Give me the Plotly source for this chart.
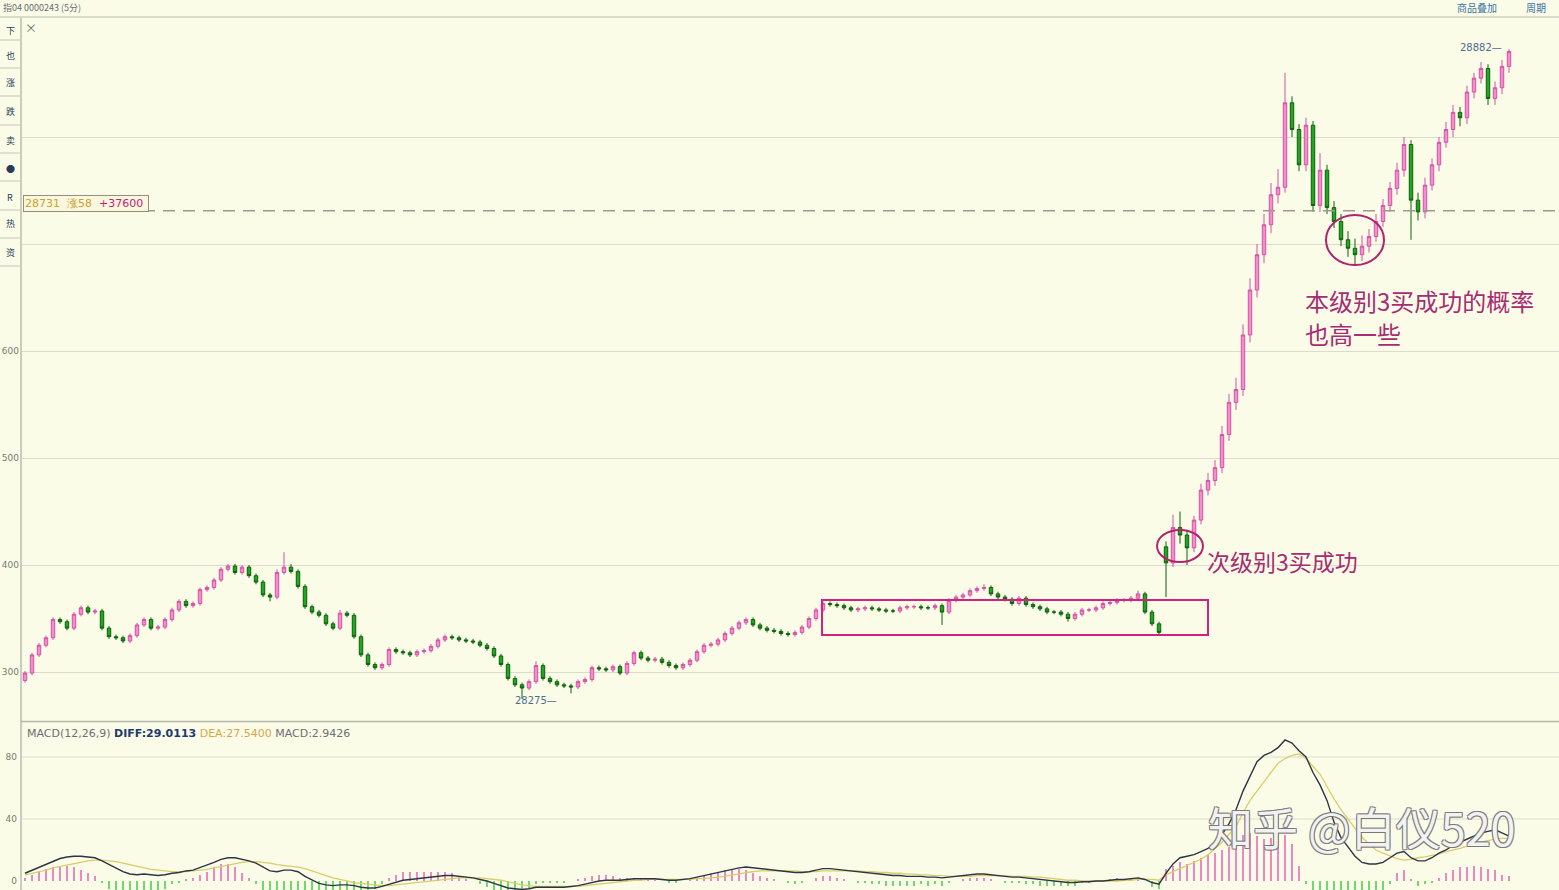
import plotly.graph_objects as go

# ---------------- data ----------------
close = [
28299,28316,28325,28332,28349,28347,28341,28354,28360,28356,
28357,28341,28333,28332,28329,28334,28344,28349,28341,28342,
28349,28358,28366,28362,28364,28377,28379,28386,28396,28399,
28393,28398,28390,28384,28372,28370,28393,28398,28394,28380,
28361,28356,28353,28345,28341,28355,28353,28333,28316,28307,
28304,28307,28321,28319,28318,28316,28319,28320,28324,28330,
28333,28332,28330,28329,28328,28325,28322,28315,28307,28294,
28288,28285,28291,28306,28294,28291,28288,28287,28286,28291,
28293,28304,28303,28302,28305,28299,28308,28318,28313,28311,
28312,28309,28306,28304,28307,28311,28319,28325,28326,28330,
28336,28341,28346,28349,28344,28341,28339,28338,28336,28335,
28337,28342,28350,28358,28364,28363,28362,28360,28358,28359,
28360,28359,28358,28357,28357,28360,28361,28361,28360,28360,
28362,28356,28367,28370,28372,28376,28378,28379,28373,28370,
28368,28364,28369,28363,28361,28359,28356,28356,28354,28350,
28354,28358,28358,28360,28364,28365,28367,28367,28369,28373,
28356,28345,28337,28402,28435,28428,28416,28442,28470,28479,
28491,28522,28552,28564,28615,28657,28690,28718,28746,28753,
28832,28807,28774,28811,28736,28769,28734,28721,28704,28696,
28690,28698,28707,28721,28736,28752,28769,28793,28741,28730,
28755,28774,28795,28807,28823,28818,28842,28855,28864,28836,
28846,28866,28880]

open_ = [
28292,28299,28316,28325,28332,28349,28347,28341,28354,28360,
28356,28357,28341,28333,28332,28329,28334,28344,28349,28341,
28342,28349,28358,28366,28362,28364,28377,28379,28386,28396,
28399,28393,28398,28390,28384,28372,28370,28393,28398,28394,
28380,28361,28356,28353,28345,28341,28355,28353,28333,28316,
28307,28304,28307,28321,28319,28318,28316,28319,28320,28324,
28330,28333,28332,28330,28329,28328,28325,28322,28315,28307,
28294,28288,28285,28291,28306,28294,28291,28288,28287,28286,
28291,28293,28304,28303,28302,28305,28299,28308,28318,28313,
28311,28312,28309,28306,28304,28307,28311,28319,28325,28326,
28330,28336,28341,28346,28349,28344,28341,28339,28338,28336,
28335,28337,28342,28350,28358,28364,28363,28362,28360,28358,
28359,28360,28359,28358,28357,28357,28360,28361,28361,28360,
28360,28362,28356,28367,28370,28372,28376,28378,28379,28373,
28370,28368,28364,28369,28363,28361,28359,28356,28356,28354,
28350,28354,28358,28358,28360,28364,28365,28367,28367,28369,
28373,28356,28345,28417,28402,28435,28428,28416,28442,28470,
28479,28491,28522,28552,28564,28615,28657,28690,28718,28746,
28753,28832,28807,28774,28811,28736,28769,28734,28721,28704,
28696,28690,28698,28707,28721,28736,28752,28769,28793,28741,
28730,28755,28774,28795,28807,28823,28818,28842,28855,28864,
28836,28846,28866]

high = [
28301,28318,28327,28334,28351,28351,28349,28356,28362,28362,
28359,28359,28343,28335,28334,28336,28346,28351,28351,28344,
28351,28360,28368,28368,28366,28379,28381,28388,28398,28401,
28401,28400,28400,28392,28386,28374,28396,28412,28401,28396,
28382,28363,28358,28355,28347,28358,28357,28355,28335,28318,
28309,28309,28323,28323,28321,28320,28321,28322,28326,28332,
28335,28335,28334,28332,28331,28330,28327,28324,28317,28309,
28296,28290,28293,28310,28308,28296,28293,28290,28289,28293,
28295,28306,28306,28305,28307,28307,28310,28320,28320,28315,
28314,28314,28311,28308,28309,28313,28321,28327,28328,28332,
28338,28343,28348,28351,28351,28346,28343,28341,28340,28338,
28339,28344,28352,28360,28366,28366,28365,28364,28362,28361,
28362,28362,28361,28360,28359,28362,28363,28363,28363,28362,
28364,28364,28369,28372,28374,28378,28380,28382,28381,28375,
28372,28370,28371,28371,28365,28363,28361,28358,28358,28356,
28356,28360,28360,28362,28366,28367,28369,28369,28371,28376,
28375,28358,28347,28422,28447,28450,28433,28446,28476,28486,
28498,28530,28560,28575,28625,28668,28700,28728,28757,28770,
28860,28838,28812,28818,28815,28785,28774,28740,28728,28712,
28705,28708,28714,28728,28742,28758,28776,28800,28797,28748,
28762,28780,28800,28814,28830,28828,28848,28860,28870,28868,
28852,28872,28882]

low = [
28290,28297,28314,28323,28330,28345,28339,28339,28352,28354,
28354,28339,28331,28330,28327,28327,28332,28342,28339,28339,
28340,28347,28356,28360,28360,28362,28375,28377,28384,28394,
28391,28391,28388,28382,28370,28366,28368,28391,28392,28378,
28359,28354,28351,28343,28339,28339,28351,28331,28314,28305,
28302,28302,28305,28317,28316,28314,28314,28317,28318,28322,
28328,28330,28328,28327,28326,28323,28320,28313,28305,28292,
28286,28275,28283,28289,28292,28289,28286,28285,28280,28284,
28289,28291,28301,28300,28300,28297,28297,28306,28311,28309,
28309,28307,28304,28302,28302,28305,28309,28317,28323,28324,
28328,28334,28339,28344,28342,28339,28337,28336,28334,28333,
28333,28335,28340,28348,28356,28361,28360,28358,28356,28356,
28357,28357,28356,28355,28355,28355,28358,28359,28358,28358,
28358,28344,28354,28365,28368,28370,28374,28376,28371,28368,
28366,28362,28362,28361,28359,28357,28354,28354,28352,28347,
28348,28352,28356,28356,28358,28362,28363,28365,28365,28367,
28354,28343,28335,28370,28398,28420,28400,28412,28438,28465,
28474,28486,28516,28545,28558,28608,28650,28682,28710,28738,
28748,28800,28768,28768,28730,28730,28728,28715,28698,28688,
28680,28684,28692,28702,28716,28730,28746,28763,28704,28722,
28724,28750,28768,28790,28800,28810,28812,28836,28850,28830,
28830,28840,28860]

diff = [
5,7,9,11,13,14.5,15.5,16,16,15.5,15,
13,10.5,8,6,4.5,4,4.5,4,3.5,4,
5,5.5,6.5,7,8.5,10,12,14,15,15,
14,13,11.5,9,6.5,6,7,7,6,3,
0.5,-1.5,-2.5,-3,-2.5,-2.5,-3,-4,-4.5,-4.5,
-3.5,-2,-1,0.5,1,1.5,2,2.5,3,3.5,
3.5,3,2.5,2,1,0,-1.5,-3,-4.5,-5,
-5.5,-5,-4,-4,-4,-4,-4,-3.5,-3,-2,
-1,0,0.5,0.5,0.5,1,1.5,1.5,1.5,1.5,
1,0.5,0.5,1,1.5,2.5,3.5,4.5,5.5,6.5,
7.5,8.5,9,8.5,8,7.5,7,6.5,6,5.5,
5.5,6,7,8,8,7.5,7,6.5,6,5.5,
5,4.5,4,3.5,3.5,3,3,3,2.5,2.5,
2,2.5,3,3.5,4,4.5,4.5,4,3.5,3,
2.5,2.5,2,1.5,1,0.5,0,-0.5,-1,-1,
-0.5,-0.5,0,0,0.5,1,1,1.5,2,1,
-1,-2,5,11,15,16,17,19,21,24,
30,37,46,58,68,77,81,83,86,91,
89,84,80,70,62,52,38,28,22,16,
12,11,11,12,15,18,19,15,13,13,
15,18,20,23,25,27,29,31,32,33,
31,29.01]

dea = [
4,5,6,7,8.5,9.5,10.5,11.5,12.5,13,13.5,
13.5,13,12.5,11.5,10.5,9.5,8.5,7.5,7,6.5,
6,6,6,6.5,7,7.5,8.5,9.5,10.5,11.5,
12,12.5,12.5,12,11.5,10.5,10,9.5,9,8,
6.5,5,3.5,2,1,0,-1,-1.5,-2,-2.5,
-3,-3,-2.5,-2,-1.5,-1,-0.5,0,0.5,1,
1.5,2,2,2,2,1.5,1,0.5,-0.5,-1.5,
-2.5,-3,-3.5,-3.5,-3.5,-3.5,-3.5,-3.5,-3.5,-3,
-2.5,-2,-1.5,-1,-0.5,0,0.5,0.5,1,1,
1,1,1,1,1,1.5,1.5,2,2.5,3,
4,4.5,5.5,6,6.5,6.5,6.5,6.5,6.5,6.5,
6,6,6,6.5,6.5,6.5,6.5,6.5,6.5,6,
6,5.5,5.5,5,5,4.5,4.5,4,4,3.5,
3.5,3,3,3,3,3.5,3.5,3.5,3.5,3.5,
3,3,3,2.5,2.5,2,1.5,1,0.5,0.5,
0,0,0,0,0,0,0.5,0.5,1,1,
1,0.5,4,6,8,10,12,14,17,21,
25,30,35,44,52,58,64,70,76,79,
81,82,79,74,69,61,53,46,40,34,
28,24,20,18,16,14.5,13.5,14,15,15.5,
16.5,17.5,19,20,21,22.5,24,25,26,27,
27.5,27.54]

macd_hist = [
2,4,6,8,9,10,10,9,7,5,3,
-1,-5,-9,-11,-12,-11,-8,-7,-7,-5,
-2,-1,1,2,4,6,9,11,11,9,
5,2,-2,-7,-11,-11,-7,-6,-7,-12,
-15,-16,-15,-13,-9,-7,-6,-6,-6,-5,
-2,2,4,6,6,6,6,6,6,6,
5,3,1,0,-2,-4,-6,-8,-10,-9,
-8,-5,-2,-1,-1,-1,-1,0,1,2,
3,4,4,3,2,2,2,2,1,1,
0,-1,-1,0,1,2,4,5,6,7,
7,8,7,5,3,2,1,0,-1,-2,
-1,0,2,3,3,2,1,0,-1,-1,
-2,-2,-3,-3,-3,-3,-3,-2,-3,-2,
-3,-1,0,1,2,2,2,1,0,-1,
-1,-1,-2,-2,-3,-3,-3,-3,-3,-3,
-1,-1,0,0,1,2,1,2,2,0,
-4,-5,8,10,12,11,13,15,17,18,
20,22,24,30,31,29,27,28,31,30,
24,10,-2,-8,-14,-18,-22,-24,-24,-22,
-18,-14,-10,-6,-2,5,7,1,-3,-2,
-1,2,5,7,9,9,10,9,8,7,
4,2.94]

price_ticks = [28300, 28400, 28500, 28600, 28700, 28800]
price_tick_text = ["300", "400", "500", "600", "", ""]
macd_ticks = [0, 40, 80]
macd_tick_text = ["0", "40", "80"]
ref_price = 28731

# ---------------- geometry helpers ----------------
W, H = 1559, 890
ML, MT = 22, 18
PW, PH = W - ML, H - MT


def px(x):
    return (x - ML) / PW


def py(y):
    return (H - y) / PH


idx = list(range(len(close)))
BG = "#fbfce7"
GRID = "#dcdcce"
CJK = "Noto Sans CJK SC"

fig = go.Figure()
fig.add_trace(go.Candlestick(
    x=idx, open=open_, high=high, low=low, close=close,
    increasing=dict(line=dict(color="#d651a6", width=1), fillcolor="#ef8fcf"),
    decreasing=dict(line=dict(color="#0c620c", width=1), fillcolor="#22a622"),
    whiskerwidth=0, xaxis="x", yaxis="y", showlegend=False, name="K"))

fig.add_trace(go.Bar(
    x=idx, y=macd_hist, width=0.4,
    marker=dict(color=["#e98ac6" if v >= 0 else "#6fd86f" for v in macd_hist], line=dict(width=0)),
    xaxis="x2", yaxis="y2", showlegend=False, name="MACD"))
fig.add_trace(go.Scatter(x=idx, y=dea, mode="lines", line=dict(color="#d9cd6a", width=1.3),
                         xaxis="x2", yaxis="y2", showlegend=False, name="DEA"))
fig.add_trace(go.Scatter(x=idx, y=diff, mode="lines", line=dict(color="#2c3546", width=1.4),
                         xaxis="x2", yaxis="y2", showlegend=False, name="DIFF"))

xr = [(ML - 25) / 7, (W - 25) / 7]
main_dom = [py(720), 1]
macd_dom = [0, py(722)]
y_top = 28300 + (672 - MT) / 1.07
y_bot = 28300 - (720 - 672) / 1.07
m_top = (881 - 722) / 1.55
m_bot = (881 - 890) / 1.55

shapes = []
shapes.append(dict(type="line", xref="paper", yref="paper", x0=px(0), x1=1, y0=py(17), y1=py(17),
                   line=dict(color="#b6baae", width=1.2)))
shapes.append(dict(type="line", xref="paper", yref="paper", x0=px(21), x1=px(21), y0=0, y1=py(18),
                   line=dict(color="#a9ad9f", width=1.2)))
shapes.append(dict(type="line", xref="paper", yref="paper", x0=px(21), x1=1, y0=py(721.5), y1=py(721.5),
                   line=dict(color="#b4b8aa", width=1.5)))
for v in [40, 80]:
    shapes.append(dict(type="line", xref="paper", yref="y2", x0=0, x1=1, y0=v, y1=v,
                       line=dict(color=GRID, width=1), layer="below"))
shapes.append(dict(type="line", xref="x", yref="y", x0=(143 - 25) / 7, x1=xr[1], y0=ref_price, y1=ref_price,
                   line=dict(color="#9a9a8e", width=1.5, dash="12px,8px")))
shapes.append(dict(type="rect", xref="x", yref="y", x0=(822 - 25) / 7, x1=(1208 - 25) / 7,
                   y0=28300 + (672 - 635) / 1.07, y1=28300 + (672 - 600) / 1.07,
                   line=dict(color="#d2227d", width=2)))
for cx, cy, rx, ry in [(1180, 546, 23, 16), (1355, 240, 29, 25)]:
    shapes.append(dict(type="circle", xref="x", yref="y",
                       x0=(cx - rx - 25) / 7, x1=(cx + rx - 25) / 7,
                       y0=28300 + (672 - cy - ry) / 1.07, y1=28300 + (672 - cy + ry) / 1.07,
                       line=dict(color="#b3216f", width=2)))
for yy in [40, 68, 96, 125, 153, 181, 210, 238, 266]:
    shapes.append(dict(type="line", xref="paper", yref="paper", x0=px(0), x1=px(20), y0=py(yy), y1=py(yy),
                       line=dict(color="#c4c6bc", width=1)))

ann = []


def label(x, y, text, size=10, color="#555", xanchor="left", yanchor="middle", family=CJK, **kw):
    ann.append(dict(xref="paper", yref="paper", x=px(x), y=py(y), text=text, showarrow=False,
                    xanchor=xanchor, yanchor=yanchor, font=dict(size=size, color=color, family=family), **kw))


label(1, 8, "指04 0000243 (5分)", size=9, color="#6a6e72")
label(1455, 8, "商品叠加", size=10, color="#3a72a8")
label(1524, 8, "周期", size=10, color="#3a72a8")
label(23, 28, "×", size=12, color="#5f7a6a")
for yy, ch in zip([30, 55, 83, 112, 140, 168, 197, 224, 253], ["下", "也", "涨", "跌", "卖", "●", "R", "热", "资"]):
    label(10, yy, ch, size=9, color="#2a3a5a", xanchor="center")
label(23, 203, "<span style='color:#c9a236'>28731  涨58 </span><span style='color:#c21f7a'> +37600 </span>",
      size=11, bgcolor="#fbf7dc", bordercolor="#8f8f84", borderwidth=1, borderpad=1, family="DejaVu Sans")
label(513, 700, "28275—", size=10, color="#4d6d8e", family="DejaVu Sans")
label(1458, 48, "28882—", size=10, color="#4d6d8e", family="DejaVu Sans")
label(25, 733, "<span style='color:#6c7074'>MACD(12,26,9) </span><b style='color:#1f3a6e'>DIFF:29.0113</b>"
      "<span style='color:#d4a84a'> DEA:27.5400</span><span style='color:#6c7074'> MACD:2.9426</span>",
      size=11, family="DejaVu Sans")
label(1205, 561, "次级别3买成功", size=23, color="#a62c73")
label(1303, 300, "本级别3买成功的概率", size=24, color="#a62c73")
label(1303, 333, "也高一些", size=24, color="#a62c73")
ann.append(dict(xref="paper", yref="paper", x=px(1362), y=py(826), text="知乎 @白仪520", showarrow=False,
                xanchor="center", yanchor="middle",
                font=dict(size=45, color="rgba(255,255,255,0.92)", family=CJK,
                          shadow="1px 1px 0 #777, -1px -1px 0 #777, 1px -1px 0 #777, -1px 1px 0 #777")))

fig.update_layout(
    width=W, height=H, margin=dict(l=ML, r=0, t=MT, b=0),
    paper_bgcolor=BG, plot_bgcolor=BG, showlegend=False,
    font=dict(family=CJK, size=10, color="#555"),
    xaxis=dict(domain=[0, 1], range=xr, anchor="y", showgrid=False, zeroline=False,
               showticklabels=False, rangeslider=dict(visible=False), showline=False, ticks=""),
    yaxis=dict(domain=main_dom, range=[y_bot, y_top], tickvals=price_ticks, ticktext=price_tick_text,
               showgrid=True, gridcolor=GRID, gridwidth=1, zeroline=False, showline=False, ticks="",
               tickfont=dict(size=9, color="#7a7a72", family="DejaVu Sans"), ticklabelstandoff=2),
    xaxis2=dict(domain=[0, 1], range=xr, anchor="y2", matches="x", showgrid=False, zeroline=False,
                showticklabels=False, showline=False, ticks=""),
    yaxis2=dict(domain=macd_dom, range=[m_bot, m_top], tickvals=macd_ticks, ticktext=macd_tick_text,
                showgrid=False, zeroline=False, showline=False, ticks="",
                tickfont=dict(size=9, color="#7a7a72", family="DejaVu Sans"), ticklabelstandoff=4),
    shapes=shapes, annotations=ann, bargap=0,
)

fig.write_html("out.html", config={"displayModeBar": False},
               post_script="document.body.style.margin='0';document.body.style.overflow='hidden';"
                           "document.body.style.background='" + BG + "';")
